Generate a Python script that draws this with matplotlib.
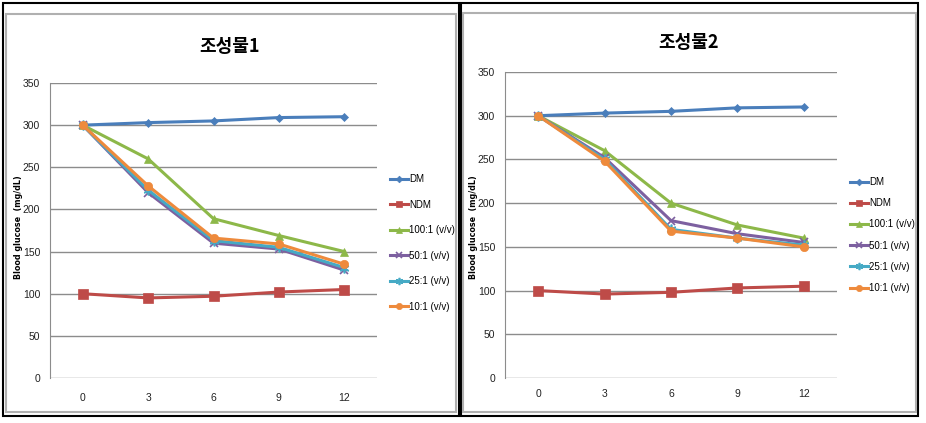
import matplotlib
matplotlib.use("Agg")
import matplotlib.pyplot as plt
from matplotlib.patches import Rectangle

plt.rcParams["font.family"] = ["Liberation Sans Narrow", "Liberation Sans", "DejaVu Sans"]

# ── Data ──────────────────────────────────────────────────────────────────────
hours = ["0", "3", "6", "9", "12"]
series_names = ["DM", "NDM", "100:1 (v/v)", "50:1 (v/v)", "25:1 (v/v)", "10:1 (v/v)"]

comp1_dm = [300, 303, 305, 309, 310]
comp1_ndm = [100, 95, 97, 102, 105]
comp1_100 = [300, 260, 189, 169, 150]
comp1_50 = [300, 220, 160, 153, 128]
comp1_25 = [300, 223, 163, 155, 131]
comp1_10 = [300, 228, 166, 159, 135]

comp2_dm = [300, 303, 305, 309, 310]
comp2_ndm = [100, 96, 98, 103, 105]
comp2_100 = [300, 260, 200, 175, 160]
comp2_50 = [300, 252, 180, 165, 155]
comp2_25 = [300, 250, 170, 160, 152]
comp2_10 = [300, 248, 168, 160, 150]

yticks = [0, 50, 100, 150, 200, 250, 300, 350]

# ── Styles ────────────────────────────────────────────────────────────────────
COLORS = ["#4A7EBB", "#BE4B48", "#8DB849", "#7D60A0", "#46AAC5", "#EE8A3C"]
MARKERS = ["D", "s", "^", "x", (6, 2, 0), "o"]
MSIZES = [4.5, 6.5, 6, 6, 7, 6]

W, H = 926, 423
fig = plt.figure(figsize=(W / 100, H / 100), dpi=100)
fig.patch.set_facecolor("white")


def px_rect(x0, y0, x1, y1):
    """pixel box (top-left origin) -> figure fraction [l, b, w, h]"""
    return [x0 / W, (H - y1) / H, (x1 - x0) / W, (y1 - y0) / H]


def frame(x0, y0, x1, y1, color, lw):
    l, b, w, h = px_rect(x0, y0, x1, y1)
    fig.add_artist(Rectangle((l, b), w, h, transform=fig.transFigure,
                             fill=False, edgecolor=color, linewidth=lw))


def panel(rect, title, title_xy, data, legend_xy, legend_gap, ylabel_x, xpad):
    ax = fig.add_axes(px_rect(*rect))
    xs = list(range(len(hours)))
    handles = []
    for vals, c, m, ms, name in zip(data, COLORS, MARKERS, MSIZES, series_names):
        mew = 1.2 if m in ("x", (6, 2, 0)) else 0.5
        h, = ax.plot(xs, vals, color=c, lw=2.2, marker=m, markersize=ms,
                     markeredgecolor=c, markerfacecolor=c, markeredgewidth=mew,
                     label=name)
        handles.append(h)
    ax.set_xlim(-0.5, len(hours) - 0.5)
    ax.set_ylim(0, 350)
    ax.set_xticks(xs)
    ax.set_xticklabels(hours)
    ax.set_yticks(yticks)
    ax.yaxis.grid(True, color="#8C8C8C", lw=1.0)
    ax.set_axisbelow(True)
    for s in ["top", "right", "bottom"]:
        ax.spines[s].set_visible(False)
    ax.spines["left"].set_color("#8C8C8C")
    ax.tick_params(length=0, labelsize=7.5, colors="#222222")
    ax.tick_params(axis="x", pad=xpad)
    ax.tick_params(axis="y", pad=7)

    fig.text(title_xy[0] / W, 1 - title_xy[1] / H, title, ha="center", va="center",
             fontsize=13, fontweight="bold",
             family=["Noto Sans CJK KR", "DejaVu Sans"])
    fig.text(ylabel_x / W, 1 - 227 / H, "Blood glucose  (mg/dL)", rotation=90,
             ha="center", va="center", fontsize=5.8, fontweight="bold",
             family=["DejaVu Sans"])
    fig.legend(handles=handles, loc="upper left",
               bbox_to_anchor=(legend_xy[0] / W, 1 - legend_xy[1] / H),
               frameon=False, fontsize=7, handlelength=1.9, handletextpad=0.1,
               labelspacing=legend_gap, borderpad=0, borderaxespad=0,
               markerscale=0.75)
    return ax


# outer frames
frame(3, 3, 459, 416, "black", 1.5)
frame(6, 14, 456, 412, "#B0B0B0", 1.5)
frame(461, 3, 918, 416, "black", 1.5)
frame(463, 13, 916, 412, "#B0B0B0", 1.5)

panel((50, 83, 377, 378), "조성물1", (230, 47),
      [comp1_dm, comp1_ndm, comp1_100, comp1_50, comp1_25, comp1_10],
      (390, 174), 1.6, 19, 11)
panel((505, 72, 837, 378), "조성물2", (689, 42),
      [comp2_dm, comp2_ndm, comp2_100, comp2_50, comp2_25, comp2_10],
      (850, 177), 1.15, 474, 8)

fig.savefig("out.png", dpi=100, facecolor="white")
